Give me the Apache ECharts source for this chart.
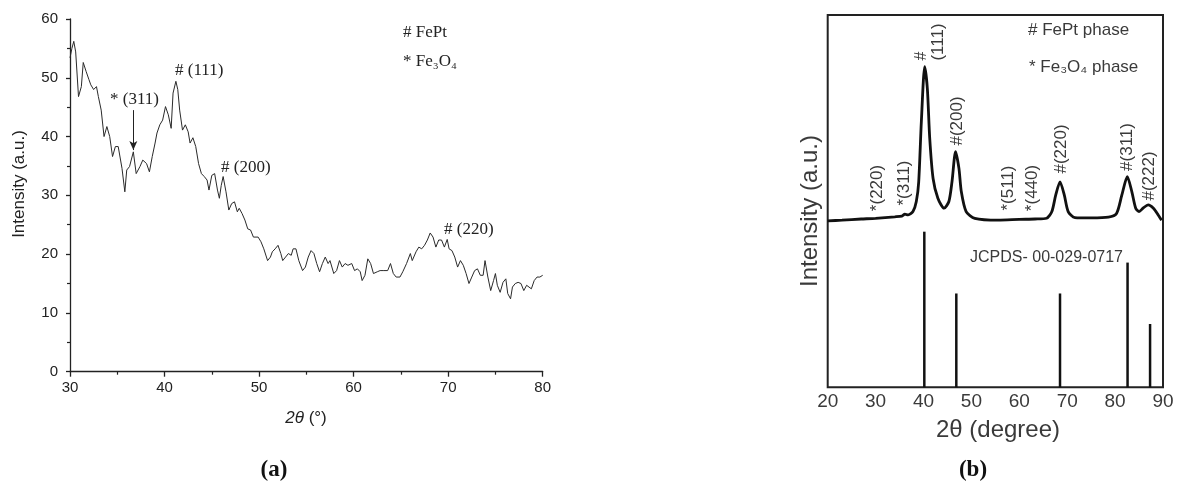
<!DOCTYPE html>
<html>
<head>
<meta charset="utf-8">
<script src="https://cdn.jsdelivr.net/npm/echarts@6/dist/echarts.min.js"></script>
<style>html,body{margin:0;padding:0;background:#fff}#c{width:1181px;height:486px}</style>
</head>
<body>
<div id="c"></div>
<script>
// ---- Panel (a): XRD scan ----
const scanA_2theta = [
30.0,30.2,30.4,30.6,30.9,31.2,31.4,31.7,32.0,32.2,
32.5,32.8,33.0,33.3,33.6,33.9,34.2,34.5,34.8,35.1,
35.5,35.8,36.0,36.3,36.7,37.0,37.4,37.7,38.1,38.4,
38.7,39.0,39.2,39.5,39.8,40.1,40.4,40.7,40.9,41.2,
41.4,41.6,41.9,42.2,42.5,42.7,43.0,43.3,43.6,43.9,
44.2,44.5,44.7,45.0,45.3,45.6,45.8,46.0,46.2,46.5,
46.8,47.1,47.4,47.7,47.9,48.2,48.5,48.8,49.1,49.4,
49.6,49.9,50.2,50.5,50.9,51.2,51.4,51.7,52.0,52.3,
52.5,52.8,53.1,53.4,53.6,53.9,54.2,54.6,54.9,55.2,
55.5,55.8,56.1,56.4,56.7,57.0,57.3,57.5,57.9,58.2,
58.5,58.8,59.1,59.4,59.8,60.1,60.4,60.7,60.9,61.2,
61.5,61.8,62.1,62.5,62.8,63.2,63.6,63.9,64.2,64.5,
64.9,65.2,65.6,66.0,66.2,66.6,66.9,67.2,67.5,67.8,
68.1,68.4,68.7,69.0,69.3,69.6,69.9,70.1,70.4,70.7,
71.0,71.3,71.6,71.9,72.2,72.5,72.8,73.1,73.4,73.7,
73.9,74.2,74.5,74.8,75.0,75.2,75.5,75.8,76.1,76.3,
76.6,76.8,77.1,77.4,77.7,78.0,78.3,78.5,78.8,79.1,
79.4,79.7,80.0];
const scanA_intensity = [
53.4,55.0,56.2,54.4,46.8,48.5,52.6,51.1,49.7,48.8,
48.0,48.5,46.8,44.5,40.0,41.7,40.0,36.6,38.3,38.3,
34.6,30.6,34.3,34.9,37.4,33.7,34.9,36.0,35.4,34.0,
36.6,38.9,40.6,42.0,42.8,45.1,43.7,41.4,47.4,49.4,
48.0,44.5,41.1,42.0,40.8,38.9,39.8,38.3,35.4,33.7,
33.2,32.6,30.9,33.4,33.7,30.9,29.5,31.7,33.2,30.6,
27.5,28.6,28.9,27.2,27.8,26.9,25.8,24.3,24.1,22.9,
22.6,22.9,22.1,20.9,18.9,19.5,20.4,20.9,21.5,20.1,
18.9,19.5,20.1,19.8,20.9,20.9,18.9,17.2,17.8,19.5,
20.6,20.1,18.4,17.0,18.4,19.5,18.4,18.9,16.7,17.2,
18.9,17.8,18.4,18.1,18.4,17.2,17.5,17.0,15.5,16.4,
19.2,18.4,16.7,17.0,17.2,17.2,17.2,18.4,16.7,16.1,
16.1,17.0,18.4,20.1,18.9,20.4,21.2,20.9,21.5,22.4,
23.6,22.9,21.2,22.4,22.4,21.2,22.5,20.9,20.6,19.5,
17.8,18.9,18.1,16.7,15.0,16.1,17.2,17.5,16.4,16.4,
18.9,16.1,13.8,15.5,16.7,14.7,13.5,15.2,15.8,13.3,
12.4,14.4,15.0,15.2,15.0,13.8,14.7,15.0,14.1,15.5,
16.1,16.1,16.4];
const arrowA_2theta = 36.7;
const arrowA_from = 44.5;
const arrowA_to = 37.7;
const ticksA_x = [30, 40, 50, 60, 70, 80];
const ticksA_y = [0, 10, 20, 30, 40, 50, 60];

// ---- Panel (b): XRD scan + JCPDS reference ----
const scanB_2theta = [20.0,23.0,27.0,30.0,34.0,35.5,36.1,36.8,37.8,38.5,39.0,39.55,40.25,40.8,41.3,42.0,43.0,44.3,45.3,45.95,46.7,47.4,47.9,48.9,50.7,55.6,60.0,63.3,65.7,66.8,67.6,68.5,69.4,70.2,71.6,75.0,78.6,80.3,81.4,82.55,83.5,84.3,85.0,85.9,86.9,88.0,89.0,89.7];
const scanB_intensity = [44.7,44.9,45.2,45.4,45.8,46.0,46.5,46.3,47.2,49.9,55.2,71.3,86.1,80.3,66.9,56.1,50.8,48.1,49.9,55.2,63.3,58.8,52.5,47.2,45.4,44.9,45.1,45.2,45.4,47.2,51.6,55.2,51.6,47.2,45.6,45.5,45.7,46.7,51.6,56.6,52.5,48.1,47.2,48.2,49.0,48.1,46.3,44.9];
const refB_2theta = [40.17, 46.85, 68.5, 82.6, 87.3];
const refB_height = [41.8, 25.2, 25.2, 33.5, 17.0];
const ticksB_x = [20, 30, 40, 50, 60, 70, 80, 90];

const SANS = '"Liberation Sans", Arial, sans-serif';
const SERIF = '"Liberation Serif", "Times New Roman", serif';

const chart = echarts.init(document.getElementById('c'), null, {renderer: 'canvas'});

function txt(x, y, text, opt) {
  opt = opt || {};
  return {
    type: 'text', x: x, y: y, rotation: opt.rot || 0, silent: true,
    style: {
      text: text, fill: opt.color || '#222',
      fontSize: opt.size || 14, fontFamily: opt.family || SANS,
      fontWeight: opt.weight || 'normal',
      align: opt.align || 'left', verticalAlign: 'middle',
      textAlign: opt.align || 'left', textVerticalAlign: 'middle',
      rich: opt.rich
    }
  };
}
const R = Math.PI / 2;
const bc = '#3a3a3a';

const option = {
  animation: false,
  backgroundColor: '#fff',
  grid: [
    {left: 70, top: 19, width: 472.7, height: 352.7},
    {left: 827.7, top: 15, width: 335.3, height: 372.3, show: true, borderColor: '#222', borderWidth: 2, backgroundColor: 'transparent'}
  ],
  xAxis: [
    {gridIndex: 0, type: 'value', min: ticksA_x[0], max: ticksA_x[ticksA_x.length - 1], interval: 10,
     axisLine: {show: true, onZero: false, lineStyle: {color: '#222', width: 1.3}},
     axisTick: {show: true, inside: false, length: 5, lineStyle: {color: '#222', width: 1.3}},
     minorTick: {show: true, splitNumber: 2, length: 3, lineStyle: {color: '#222', width: 1.2}},
     axisLabel: {fontSize: 15, color: '#222', fontFamily: SANS, margin: 9},
     splitLine: {show: false}},
    {gridIndex: 1, type: 'value', min: ticksB_x[0], max: ticksB_x[ticksB_x.length - 1], interval: 10,
     axisLine: {show: false},
     axisTick: {show: false},
     axisLabel: {fontSize: 19, color: bc, fontFamily: SANS, margin: 5},
     splitLine: {show: false}}
  ],
  yAxis: [
    {gridIndex: 0, type: 'value', min: ticksA_y[0], max: ticksA_y[ticksA_y.length - 1], interval: 10,
     axisLine: {show: true, onZero: false, lineStyle: {color: '#222', width: 1.3}},
     axisTick: {show: true, inside: false, length: 4, lineStyle: {color: '#222', width: 1.3}},
     minorTick: {show: true, splitNumber: 2, length: 3, lineStyle: {color: '#222', width: 1.2}},
     axisLabel: {fontSize: 15, color: '#222', fontFamily: SANS, margin: 12},
     splitLine: {show: false}},
    {gridIndex: 1, type: 'value', min: 0, max: 100,
     axisLine: {show: false}, axisTick: {show: false}, axisLabel: {show: false}, splitLine: {show: false}}
  ],
  series: [
    {type: 'line', xAxisIndex: 0, yAxisIndex: 0, showSymbol: false, symbol: 'none',
     data: scanA_2theta.map((x, i) => [x, scanA_intensity[i]]),
     lineStyle: {color: '#2a2a2a', width: 1},
     markLine: {silent: true, symbol: ['none', 'arrow'], symbolSize: [6, 9], label: {show: false},
       lineStyle: {color: '#222', width: 1, type: 'solid'},
       data: [[{coord: [arrowA_2theta, arrowA_from]}, {coord: [arrowA_2theta, arrowA_to]}]]}},
    {type: 'line', xAxisIndex: 1, yAxisIndex: 1, showSymbol: false, symbol: 'none', smooth: 0.25,
     data: scanB_2theta.map((x, i) => [x, scanB_intensity[i]]),
     lineStyle: {color: '#111', width: 2.8}},
    {type: 'bar', xAxisIndex: 1, yAxisIndex: 1, barWidth: 2.5,
     data: refB_2theta.map((x, i) => [x, refB_height[i]]),
     itemStyle: {color: '#111'}}
  ],
  graphic: [
    // panel (a)
    txt(19, 184, 'Intensity (a.u.)', {rot: R, align: 'center', size: 17}),
    {type: 'text', x: 306, y: 418, silent: true, style: {
      text: '{i|2θ} (°)', fill: '#222', fontSize: 17, fontFamily: SANS,
      align: 'center', verticalAlign: 'middle', textAlign: 'center', textVerticalAlign: 'middle',
      rich: {i: {fontStyle: 'italic', fontSize: 17, fontFamily: SANS, fill: '#222'}}}},
    txt(274, 470, '(a)', {align: 'center', size: 23, family: SERIF, weight: 'bold', color: '#111'}),
    txt(175, 71, '# (111)', {size: 17, family: SERIF}),
    txt(110, 100, '* (311)', {size: 17, family: SERIF}),
    txt(221, 168, '# (200)', {size: 17, family: SERIF}),
    txt(444, 230, '# (220)', {size: 17, family: SERIF}),
    txt(403, 33, '# FePt', {size: 17, family: SERIF}),
    txt(403, 62, '* Fe₃O₄', {size: 17, family: SERIF}),
    // panel (b)
    txt(810, 211, 'Intensity (a.u.)', {rot: R, align: 'center', size: 24, color: bc}),
    txt(998, 430, '2θ (degree)', {align: 'center', size: 24, color: bc}),
    txt(973, 470, '(b)', {align: 'center', size: 23, family: SERIF, weight: 'bold', color: '#111'}),
    txt(1028, 30, '# FePt phase', {size: 17, color: bc}),
    txt(1029, 67, '* Fe₃O₄ phase', {size: 17, color: bc}),
    txt(970, 258, 'JCPDS- 00-029-0717', {size: 16, color: bc}),
    txt(922, 56, '#', {rot: R, align: 'center', size: 16, color: bc}),
    txt(938, 42, '(111)', {rot: R, align: 'center', size: 17, color: bc}),
    txt(957, 121, '#(200)', {rot: R, align: 'center', size: 17, color: bc}),
    txt(877, 188, '*(220)', {rot: R, align: 'center', size: 17, color: bc}),
    txt(904, 183, '*(311)', {rot: R, align: 'center', size: 17, color: bc}),
    txt(1008, 188, '*(511)', {rot: R, align: 'center', size: 17, color: bc}),
    txt(1032, 188, '*(440)', {rot: R, align: 'center', size: 17, color: bc}),
    txt(1061, 149, '#(220)', {rot: R, align: 'center', size: 17, color: bc}),
    txt(1127, 147, '#(311)', {rot: R, align: 'center', size: 17, color: bc}),
    txt(1149, 176, '#(222)', {rot: R, align: 'center', size: 17, color: bc})
  ]
};
chart.setOption(option);
</script>
</body>
</html>
